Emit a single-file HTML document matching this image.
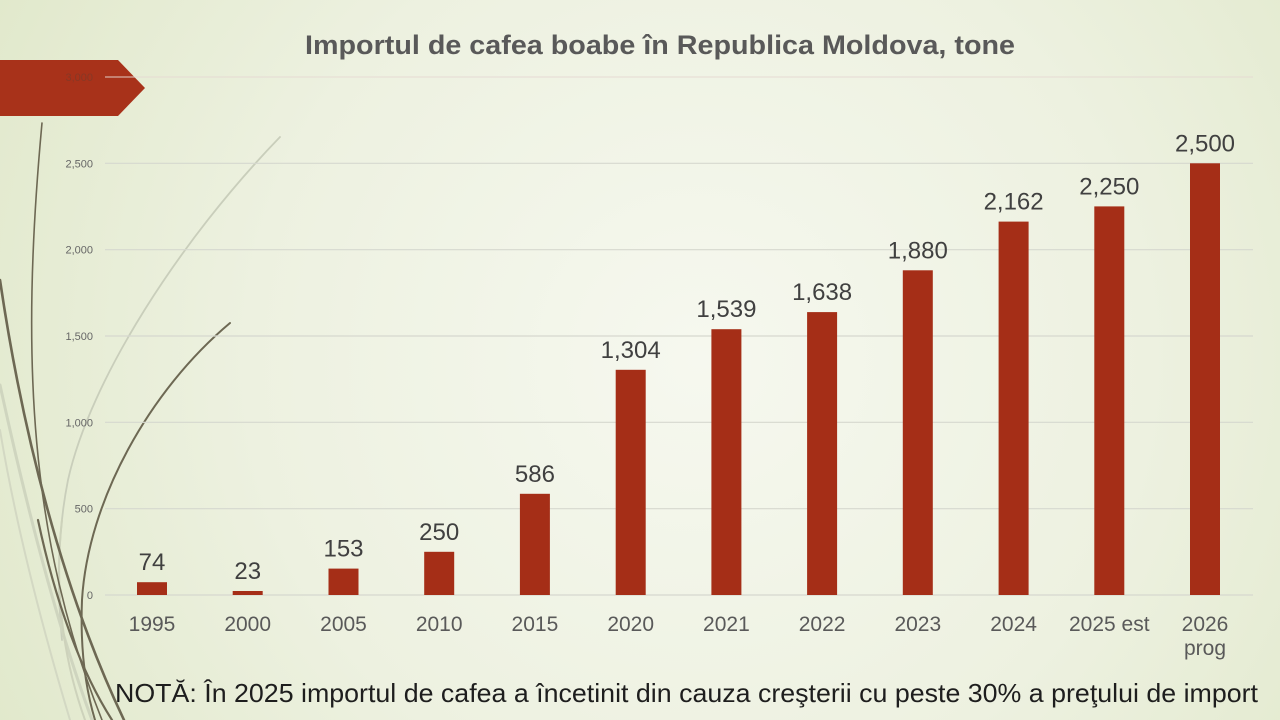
<!DOCTYPE html>
<html>
<head>
<meta charset="utf-8">
<style>
  html, body { margin: 0; padding: 0; }
  body { width: 1280px; height: 720px; overflow: hidden; }
  svg { display: block; }
  text { font-family: "Liberation Sans", "DejaVu Sans", sans-serif; }
</style>
</head>
<body>
<svg width="1280" height="720" viewBox="0 0 1280 720" xmlns="http://www.w3.org/2000/svg">
  <defs>
    <radialGradient id="bg" cx="700" cy="360" r="820" gradientUnits="userSpaceOnUse">
      <stop offset="0" stop-color="#f6f8ef"/>
      <stop offset="0.55" stop-color="#edf1e0"/>
      <stop offset="1" stop-color="#e0e8ca"/>
    </radialGradient>
  </defs>
  <rect x="0" y="0" width="1280" height="720" fill="url(#bg)"/>

  <!-- decorative curves -->
  <g fill="none" stroke-linecap="round">
    <path d="M280,137 C180,240 90,380 68,480 C56,540 58,600 62,640" stroke="#c9cebb" stroke-width="1.8"/>
    <path d="M0,385 C25,500 55,620 92,720" stroke="#cfd5bf" stroke-width="3"/>
    <path d="M0,430 C15,520 40,620 70,720" stroke="#d3d8c3" stroke-width="2"/>
    <path d="M62,520 C55,580 60,650 85,720" stroke="#cdd2bb" stroke-width="2"/>
    <path d="M42,123 C20,360 30,540 102,720" stroke="#6d6853" stroke-width="1.6"/>
    <path d="M0,280 C22,430 62,590 124,720" stroke="#6d6853" stroke-width="2.6"/>
    <path d="M230,323 C150,390 88,500 82,600 C80,650 86,690 95,720" stroke="#6d6853" stroke-width="2"/>
    <path d="M38,520 C55,600 80,670 112,720" stroke="#6d6853" stroke-width="2.2"/>
  </g>

  <!-- red arrow -->
  <polygon points="0,60 118,60 145,88 118,116 0,116" fill="#a8321a"/>

  <!-- gridlines -->
  <g stroke="#d6d8cf" stroke-width="1.2">
    <line x1="105" y1="77" x2="1253" y2="77" stroke="#e6d9d3" opacity="0.75"/>
    <line x1="105" y1="163.3" x2="1253" y2="163.3"/>
    <line x1="105" y1="249.7" x2="1253" y2="249.7"/>
    <line x1="105" y1="336" x2="1253" y2="336"/>
    <line x1="105" y1="422.3" x2="1253" y2="422.3"/>
    <line x1="105" y1="508.7" x2="1253" y2="508.7"/>
    <line x1="105" y1="595" x2="1253" y2="595"/>
  </g>

  <!-- y axis labels -->
  <g font-size="11" fill="#666666" text-anchor="end">
    <text x="93" y="81" fill="#7a3a2a" opacity="0.7">3,000</text>
    <text x="93" y="167.3">2,500</text>
    <text x="93" y="253.7">2,000</text>
    <text x="93" y="340">1,500</text>
    <text x="93" y="426.3">1,000</text>
    <text x="93" y="512.7">500</text>
    <text x="93" y="599">0</text>
  </g>

  <!-- bars -->
  <g fill="#a52e17">
    <rect x="137" y="582.2" width="30" height="12.8"/>
    <rect x="232.7" y="591" width="30" height="4"/>
    <rect x="328.5" y="568.6" width="30" height="26.4"/>
    <rect x="424.2" y="551.8" width="30" height="43.2"/>
    <rect x="519.9" y="493.8" width="30" height="101.2"/>
    <rect x="615.7" y="369.8" width="30" height="225.2"/>
    <rect x="711.4" y="329.2" width="30" height="265.8"/>
    <rect x="807.1" y="312.1" width="30" height="282.9"/>
    <rect x="902.8" y="270.3" width="30" height="324.7"/>
    <rect x="998.6" y="221.6" width="30" height="373.4"/>
    <rect x="1094.3" y="206.4" width="30" height="388.6"/>
    <rect x="1190" y="163.3" width="30" height="431.7"/>
  </g>

  <!-- value labels -->
  <g font-size="24" fill="#404040" text-anchor="middle">
    <text x="152" y="570.2">74</text>
    <text x="247.7" y="579">23</text>
    <text x="343.5" y="556.6">153</text>
    <text x="439.2" y="539.8">250</text>
    <text x="534.9" y="481.8">586</text>
    <text x="630.7" y="357.8">1,304</text>
    <text x="726.4" y="317.2">1,539</text>
    <text x="822.1" y="300.1">1,638</text>
    <text x="917.8" y="258.3">1,880</text>
    <text x="1013.6" y="209.6">2,162</text>
    <text x="1109.3" y="194.4">2,250</text>
    <text x="1205" y="151.3">2,500</text>
  </g>

  <!-- category labels -->
  <g font-size="21" fill="#595959" text-anchor="middle">
    <text x="152" y="631">1995</text>
    <text x="247.7" y="631">2000</text>
    <text x="343.5" y="631">2005</text>
    <text x="439.2" y="631">2010</text>
    <text x="534.9" y="631">2015</text>
    <text x="630.7" y="631">2020</text>
    <text x="726.4" y="631">2021</text>
    <text x="822.1" y="631">2022</text>
    <text x="917.8" y="631">2023</text>
    <text x="1013.6" y="631">2024</text>
    <text x="1109.3" y="631">2025 est</text>
    <text x="1205" y="631">2026</text>
    <text x="1205" y="655">prog</text>
  </g>

  <!-- title -->
  <text x="305" y="54" font-size="27" font-weight="bold" fill="#595959" textLength="710" lengthAdjust="spacingAndGlyphs">Importul de cafea boabe în Republica Moldova, tone</text>

  <!-- note -->
  <text x="115" y="702" font-size="26" fill="#1e1e1e" textLength="1143" lengthAdjust="spacingAndGlyphs">NOTĂ: În 2025 importul de cafea a încetinit din cauza creşterii cu peste 30% a preţului de import</text>
</svg>
</body>
</html>
